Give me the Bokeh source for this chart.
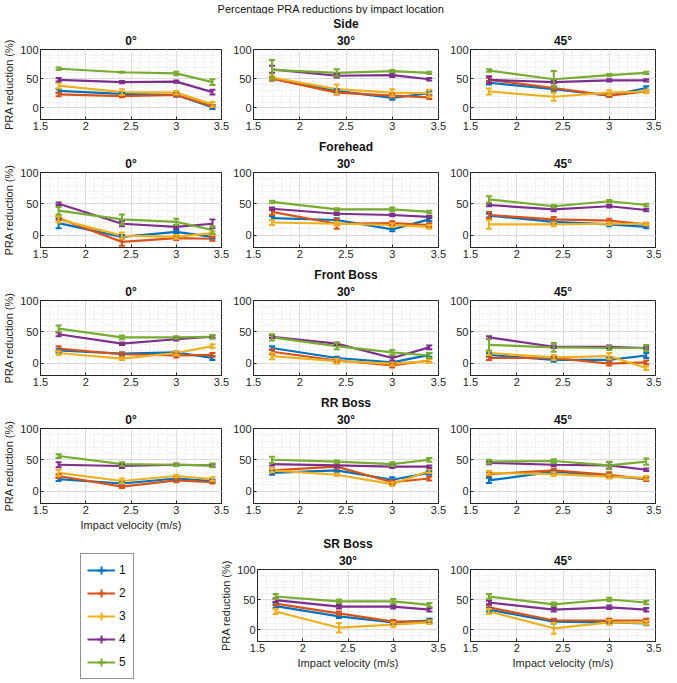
import numpy as np
from bokeh.plotting import figure
from bokeh.models import (ColumnDataSource, Whisker, TeeHead, FixedTicker, Title,
                          Legend, LegendItem, Range1d)
from bokeh.layouts import column, row
from bokeh.embed import file_html
from bokeh.resources import INLINE

# ---------------- data ----------------
velocity = [1.7, 2.4, 3.0, 3.4]
series = ["1", "2", "3", "4", "5"]
x_ticks = [1.5, 2, 2.5, 3, 3.5]
y_ticks = [0, 50, 100]

# each panel: one list per series (1..5), one value per velocity
side_0 = [[29, 24, 22, 1], [23, 20, 22, 3], [38, 27, 26, 6], [48, 44, 45, 27], [67, 61, 59, 44]]
side_0_err = [[3, 2, 3, 3], [3, 2, 2, 2], [5, 5, 3, 4], [3, 2, 2, 4], [2, 1, 3, 5]]
side_30 = [[50, 29, 17, 25], [50, 26, 21, 18], [52, 32, 26, 25], [66, 55, 56, 49], [65, 60, 63, 60]]
side_30_err = [[3, 3, 3, 3], [3, 3, 3, 3], [3, 8, 6, 6], [6, 3, 3, 2], [17, 6, 2, 2]]
side_45 = [[43, 32, 21, 34], [48, 34, 21, 28], [28, 19, 26, 28], [48, 44, 47, 47], [64, 49, 56, 60]]
side_45_err = [[3, 3, 2, 3], [3, 3, 2, 2], [5, 7, 4, 3], [6, 2, 2, 2], [2, 14, 2, 2]]

forehead_0 = [[19, -3, 5, -3], [27, -11, -5, -6], [25, -1, -3, 3], [50, 18, 13, 18], [39, 25, 21, 8]]
forehead_0_err = [[8, 3, 3, 3], [3, 6, 3, 3], [5, 5, 3, 3], [2, 4, 3, 7], [6, 8, 5, 6]]
forehead_30 = [[27, 24, 9, 25], [37, 18, 19, 16], [20, 18, 16, 13], [42, 34, 32, 29], [53, 41, 41, 37]]
forehead_30_err = [[3, 3, 3, 3], [5, 8, 3, 3], [4, 3, 3, 3], [2, 2, 2, 2], [2, 2, 3, 2]]
forehead_45 = [[31, 21, 17, 13], [32, 25, 23, 17], [17, 17, 18, 18], [48, 41, 46, 40], [57, 46, 54, 48]]
forehead_45_err = [[3, 2, 3, 2], [5, 4, 3, 2], [7, 3, 2, 2], [2, 3, 2, 2], [5, 2, 2, 2]]

frontboss_0 = [[20, 15, 17, 8], [23, 14, 12, 13], [16, 7, 16, 27], [46, 31, 38, 42], [55, 41, 41, 42]]
frontboss_0_err = [[3, 2, 2, 3], [4, 3, 3, 3], [3, 2, 3, 3], [3, 2, 2, 2], [5, 3, 2, 3]]
frontboss_30 = [[24, 8, 1, 13], [18, 4, -4, 4], [11, 3, -1, 3], [42, 31, 8, 25], [41, 27, 17, 12]]
frontboss_30_err = [[3, 2, 2, 3], [4, 3, 3, 3], [5, 4, 3, 3], [2, 2, 4, 3], [5, 5, 4, 4]]
frontboss_45 = [[13, 5, 5, 12], [8, 8, -1, 1], [16, 9, 11, -8], [41, 26, 26, 24], [29, 25, 24, 24]]
frontboss_45_err = [[3, 3, 3, 4], [3, 2, 3, 3], [3, 4, 5, 3], [2, 2, 2, 2], [9, 7, 3, 5]]

rrboss_0 = [[19, 12, 20, 16], [24, 7, 17, 14], [29, 16, 24, 19], [42, 40, 42, 41], [56, 43, 42, 41]]
rrboss_0_err = [[3, 2, 2, 2], [3, 2, 3, 2], [5, 4, 2, 3], [4, 3, 2, 2], [3, 3, 2, 3]]
rrboss_30 = [[29, 33, 18, 29], [33, 39, 14, 20], [33, 26, 11, 32], [43, 41, 39, 39], [50, 47, 43, 50]]
rrboss_30_err = [[3, 3, 4, 3], [3, 3, 3, 3], [3, 2, 3, 3], [2, 2, 2, 2], [5, 2, 3, 3]]
rrboss_45 = [[17, 31, 24, 19], [27, 33, 26, 19], [29, 27, 23, 21], [45, 42, 41, 34], [47, 48, 41, 47]]
rrboss_45_err = [[4, 2, 3, 3], [3, 3, 4, 3], [3, 3, 3, 3], [2, 2, 5, 2], [3, 3, 6, 5]]

srboss_30 = [[39, 22, 12, 15], [43, 27, 13, 13], [30, 3, 8, 12], [49, 38, 38, 33], [55, 47, 47, 41]]
srboss_30_err = [[3, 3, 3, 3], [3, 3, 3, 3], [4, 8, 4, 3], [3, 3, 3, 3], [4, 3, 4, 3]]
srboss_45 = [[33, 13, 12, 10], [37, 15, 15, 15], [30, 2, 12, 11], [45, 33, 37, 33], [55, 42, 50, 45]]
srboss_45_err = [[3, 3, 3, 3], [3, 3, 3, 3], [4, 9, 4, 3], [3, 3, 3, 3], [4, 3, 3, 3]]

# ---------------- style ----------------
COLORS = ["#0072BD", "#D95319", "#EDB120", "#7E2F8E", "#77AC30"]
FONT = "Liberation Sans"
TXT = "#262626"
FH = 75  # frame height

minor_x = [round(1.5 + 0.1 * i, 2) for i in range(21)]
minor_y = list(range(-20, 101, 10))


def panel(data, err, width, left, right, top, bottom, titles, ylabel=False, xlabel=False):
    p = figure(width=width, height=top + FH + bottom, title=None,
               x_range=Range1d(1.5, 3.5), y_range=Range1d(-20, 100),
               output_backend="svg", toolbar_location=None,
               min_border_left=left, min_border_right=right,
               min_border_top=top, min_border_bottom=bottom)
    p.outline_line_color = TXT
    p.outline_line_width = 1
    p.background_fill_color = "white"
    p.border_fill_color = "white"
    p.xaxis.ticker = FixedTicker(ticks=x_ticks, minor_ticks=minor_x)
    p.yaxis.ticker = FixedTicker(ticks=y_ticks, minor_ticks=minor_y)
    for ax in (p.xaxis[0], p.yaxis[0]):
        ax.axis_line_color = TXT
        ax.major_tick_line_color = TXT
        ax.major_tick_in = 3
        ax.major_tick_out = 0
        ax.minor_tick_in = 0
        ax.minor_tick_out = 0
        ax.major_label_text_font = FONT
        ax.major_label_text_font_size = "11px"
        ax.major_label_text_color = TXT
        ax.major_label_standoff = 2
        ax.axis_label_text_font = FONT
        ax.axis_label_text_font_size = "11px"
        ax.axis_label_text_font_style = "normal"
        ax.axis_label_text_color = TXT
        ax.axis_label_standoff = 2
    p.xaxis.major_label_overrides = {1.5: "1.5", 2: "2", 2.5: "2.5", 3: "3", 3.5: "3.5"}
    if ylabel:
        p.yaxis.axis_label = "PRA reduction (%)"
    if xlabel:
        p.xaxis.axis_label = "Impact velocity (m/s)"
    for g in (p.xgrid[0], p.ygrid[0]):
        g.grid_line_color = "#DCDCDC"
        g.grid_line_width = 1
        g.minor_grid_line_color = "#E8E8E8"
        g.minor_grid_line_dash = "2 2"
    for vals, e, c in zip(data, err, COLORS):
        src = ColumnDataSource(dict(x=velocity, y=vals,
                                    upper=[v + d for v, d in zip(vals, e)],
                                    lower=[v - d for v, d in zip(vals, e)]))
        w = Whisker(source=src, base="x", upper="upper", lower="lower",
                    line_color=c, line_width=2, level="glyph",
                    upper_head=TeeHead(size=6, line_color=c, line_width=2),
                    lower_head=TeeHead(size=6, line_color=c, line_width=2))
        p.add_layout(w)
        p.line("x", "y", source=src, line_color=c, line_width=2.2)
    for i, t in enumerate(titles):
        p.add_layout(Title(text=t, align="center", text_font=FONT, text_font_size="12px",
                           text_font_style="bold", text_color="#111111",
                           standoff=3 if i == 0 else 0), "above")
    return p


# column geometry (page 661 px wide)
W1, L1, R1 = 229, 36, 8
W2, L2, R2 = 217, 24, 8
W3, L3, R3 = 215, 24, 6

head = figure(width=661, height=14, title="Percentage PRA reductions by impact location",
              output_backend="svg", toolbar_location=None, min_border=0,
              x_axis_location=None, y_axis_location=None,
              x_range=Range1d(0, 1), y_range=Range1d(0, 1))
head.title.align = "center"
head.title.text_font = FONT
head.title.text_font_size = "11px"
head.title.text_font_style = "normal"
head.title.text_color = "#111111"
head.title.standoff = 0
head.grid.visible = False
head.outline_line_color = None

rows = []
specs = [
    ("Side", side_0, side_0_err, side_30, side_30_err, side_45, side_45_err, 30, 17, False),
    ("Forehead", forehead_0, forehead_0_err, forehead_30, forehead_30_err, forehead_45, forehead_45_err, 36, 17, False),
    ("Front Boss", frontboss_0, frontboss_0_err, frontboss_30, frontboss_30_err, frontboss_45, frontboss_45_err, 36, 17, False),
    ("RR Boss", rrboss_0, rrboss_0_err, rrboss_30, rrboss_30_err, rrboss_45, rrboss_45_err, 36, 31, True),
]
for name, d0, e0, d30, e30, d45, e45, top, bot, xl in specs:
    a = panel(d0, e0, W1, L1, R1, top, bot, ["0°"], ylabel=True, xlabel=xl)
    b = panel(d30, e30, W2, L2, R2, top, bot, ["30°", name])
    c = panel(d45, e45, W3, L3, R3, top, bot, ["45°"])
    rows.append(row(a, b, c))

# last row: legend + SR Boss
T5, B5 = 32, 31
leg = figure(width=217, height=T5 + FH + B5, title=None, output_backend="svg", toolbar_location=None,
             min_border=0, min_border_left=132, x_axis_location=None, y_axis_location=None,
             x_range=Range1d(0, 1), y_range=Range1d(0, 1))
leg.grid.visible = False
leg.outline_line_color = None
leg.background_fill_color = "white"
leg.border_fill_color = "white"
items = []
for s, c in zip(series, COLORS):
    rl = leg.line([-5, -4], [-5, -5], line_color=c, line_width=2)
    rb = leg.scatter([-5], [-5], marker="cross", size=12, line_color=c, line_width=2)
    items.append(LegendItem(label=s, renderers=[rl, rb]))
legend = Legend(items=items, location=(80, -38), margin=0, padding=6, spacing=3,
                glyph_width=28, glyph_height=20, label_height=20, label_width=8,
                label_standoff=4,
                label_text_font=FONT, label_text_font_size="12px", label_text_color="#111111",
                border_line_color=TXT, border_line_width=1, background_fill_color="white")
leg.add_layout(legend, "left")

s30 = panel(srboss_30, srboss_30_err, 229, 36, 8, T5, B5, ["30°", "SR Boss"], ylabel=True, xlabel=True)
s45 = panel(srboss_45, srboss_45_err, W3, L3, R3, T5, B5, ["45°"], xlabel=True)
rows.append(row(leg, s30, s45))

layout = column(head, *rows)
open("out.html", "w").write(file_html(layout, INLINE))
